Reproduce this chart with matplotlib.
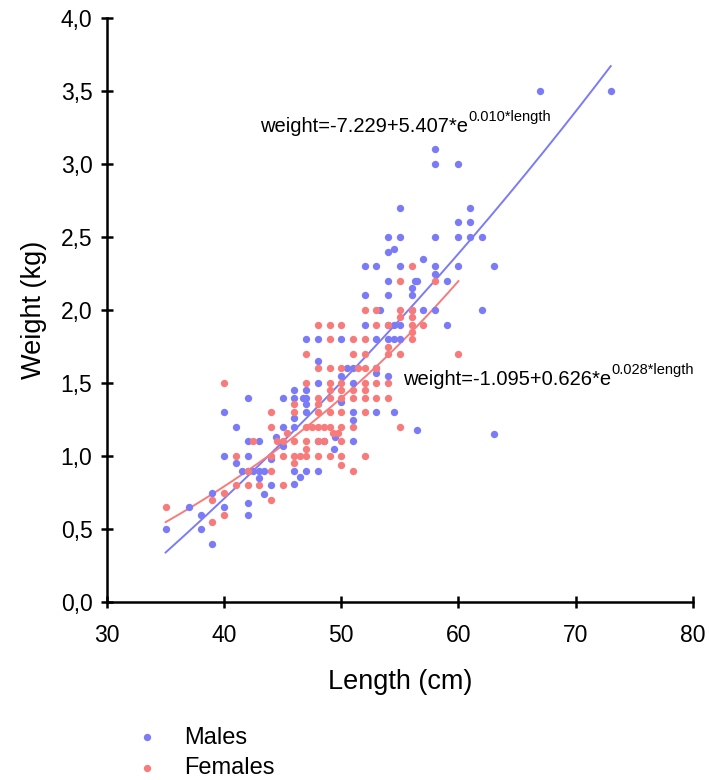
import matplotlib
matplotlib.use("Agg")
import matplotlib.pyplot as plt
import numpy as np
from matplotlib.ticker import FuncFormatter

plt.rcParams['font.family'] = ['Liberation Sans', 'DejaVu Sans']

# --- data ---
male_length = [35, 37, 38, 38, 39, 39, 40, 40, 40, 41, 41, 41.5, 42, 42, 42, 42, 42, 42,
               42.5, 43, 43, 43, 43.4, 43.4, 44, 44, 44.4, 45, 45, 45, 46, 46, 46, 46,
               46, 46, 46.5, 46.7, 47, 47, 47, 47, 47, 47, 48, 48, 48, 48, 48.5, 48,
               49.4, 49.5, 50, 50, 50, 50.5, 51, 51, 51, 51, 51, 52, 52, 52, 53, 53,
               53, 53, 53, 53.3, 54, 54, 54, 54, 54, 54, 54, 54.5, 54.5, 54.5, 54.5,
               55, 55, 55, 55, 55, 56, 56, 56, 56.3, 56.5, 56.5, 57, 57, 58, 58, 58,
               58, 58, 58, 59, 59, 60, 60, 60, 60, 61, 61, 61, 62, 62, 63, 63, 67, 73]
male_weight = [0.5, 0.65, 0.6, 0.5, 0.4, 0.75, 0.65, 1.0, 1.3, 1.2, 0.95, 0.9, 1.4, 1.1,
               1.0, 0.9, 0.68, 0.6, 0.9, 0.9, 1.1, 0.85, 0.9, 0.74, 0.8, 0.98, 1.13,
               1.07, 1.2, 1.4, 1.2, 1.26, 1.4, 1.45, 0.9, 0.81, 0.86, 1.4, 1.4, 1.45,
               1.36, 1.3, 0.9, 1.8, 1.8, 1.65, 1.5, 1.1, 1.1, 0.9, 1.05, 1.13, 1.37,
               1.55, 1.8, 1.6, 1.6, 1.5, 1.3, 1.25, 1.1, 1.9, 2.1, 2.3, 1.8, 1.6, 1.57,
               1.3, 2.3, 2.0, 1.55, 1.8, 1.9, 2.1, 2.2, 2.4, 2.5, 1.3, 1.8, 1.9, 2.42,
               1.8, 1.9, 2.3, 2.5, 2.7, 2.0, 2.1, 2.15, 2.2, 2.2, 1.18, 2.0, 2.35, 2.0,
               2.25, 2.3, 2.5, 3.0, 3.1, 1.9, 2.2, 2.3, 2.5, 2.6, 3.0, 2.5, 2.6, 2.7,
               2.0, 2.5, 2.3, 1.15, 3.5, 3.5]

female_length = [35, 39, 39, 40, 40, 40, 41, 41, 42, 42, 42.5, 43, 44, 44, 44, 44, 44,
                 44.5, 45, 45, 45, 45.4, 46, 46, 46, 46, 46, 46.5, 47, 47, 47, 47, 47,
                 47, 47.5, 48, 48, 48, 48, 48, 48, 48, 48, 48.5, 48.5, 49, 49, 49, 49,
                 49, 49, 49, 49, 49, 49.3, 49.7, 50, 50, 50, 50, 50, 50, 50, 50, 50, 50,
                 51, 51, 51, 51, 51, 51, 51.4, 52, 52, 52, 52, 52, 52, 52, 52, 52, 53,
                 53, 53, 53, 53, 54, 54, 54, 54, 54, 55, 55, 55, 55, 55, 56, 56, 56, 56,
                 56, 56, 57, 58, 60]
female_weight = [0.65, 0.7, 0.55, 0.75, 0.6, 1.5, 1.0, 0.8, 0.8, 0.9, 1.1, 0.8, 1.3, 1.2,
                 1.0, 0.9, 0.7, 1.1, 1.1, 1.0, 0.8, 1.16, 1.3, 1.36, 1.1, 1.0, 0.95, 1.0,
                 1.7, 1.5, 1.2, 1.1, 1.05, 1.0, 1.2, 1.9, 1.6, 1.4, 1.36, 1.3, 1.2, 1.1,
                 1.0, 1.2, 1.1, 1.9, 1.8, 1.6, 1.5, 1.45, 1.4, 1.3, 1.2, 1.0, 1.16, 1.16,
                 1.9, 1.6, 1.5, 1.45, 1.4, 1.3, 1.2, 1.1, 1.0, 0.94, 1.8, 1.7, 1.45, 1.4,
                 1.2, 0.9, 1.6, 2.0, 1.8, 1.7, 1.6, 1.5, 1.45, 1.4, 1.3, 1.0, 2.0, 1.9,
                 1.6, 1.5, 1.4, 1.9, 1.75, 1.7, 1.5, 1.4, 2.2, 2.0, 1.95, 1.7, 1.2, 2.3,
                 2.0, 1.95, 1.9, 1.85, 1.8, 1.9, 2.2, 1.7]

# fitted curves: weight = a + c * exp(b * length), drawn over each sex's length range
male_fit = [-6.863, 5.076, 0.010]
female_fit = [-1.08, 0.611, 0.028]
male_range = [35, 73]
female_range = [35, 60]
male_label = 'weight=-7.229+5.407*e'
male_exp = '0.010*length'
female_label = 'weight=-1.095+0.626*e'
female_exp = '0.028*length'

blue = '#7b7bf8'
red = '#f87b7b'

fig = plt.figure(figsize=(7.09, 7.80), dpi=100)
ax = fig.add_axes([0.151, 0.228, 0.826, 0.749])

ax.scatter(male_length, male_weight, s=28, color=blue, lw=0, label='Males', zorder=3)
ax.scatter(female_length, female_weight, s=28, color=red, lw=0, label='Females', zorder=3)

for fit, rng, col in [(male_fit, male_range, blue), (female_fit, female_range, red)]:
    xs = np.linspace(rng[0], rng[1], 200)
    a, c, b = fit
    ax.plot(xs, a + c * np.exp(b * xs), color=col, lw=1.4, zorder=2)

t1 = ax.text(43.1, 3.22, male_label, fontsize=14.5, va='baseline')
ax.annotate(male_exp, xy=(1, 0.6), xycoords=t1, fontsize=10.5, va='bottom')
t2 = ax.text(55.3, 1.49, female_label, fontsize=14.5, va='baseline')
ax.annotate(female_exp, xy=(1, 0.6), xycoords=t2, fontsize=10.5, va='bottom')

ax.set_xlim(30, 80)
ax.set_ylim(0, 4)
ax.set_xticks(np.arange(30, 81, 10))
ax.set_yticks(np.arange(0, 4.01, 0.5))
ax.yaxis.set_major_formatter(FuncFormatter(lambda v, p: f'{v:.1f}'.replace('.', ',')))
for s in ['top', 'right']:
    ax.spines[s].set_visible(False)
for s in ['left', 'bottom']:
    ax.spines[s].set_linewidth(1.8)
ax.tick_params(direction='inout', length=9, width=1.8, labelsize=16.5)
ax.tick_params(axis='x', pad=11)
ax.tick_params(axis='y', pad=6)
ax.set_xlabel('Length (cm)', fontsize=19.5, labelpad=16)
ax.set_ylabel('Weight (kg)', fontsize=19.5, labelpad=10)

handles, labels = ax.get_legend_handles_labels()
fig.legend(handles, labels, loc='upper left', bbox_to_anchor=(0.157, 0.0835),
           frameon=False, fontsize=17, handletextpad=0.6, labelspacing=0.35,
           borderpad=0)

fig.savefig('out.png', dpi=100)
